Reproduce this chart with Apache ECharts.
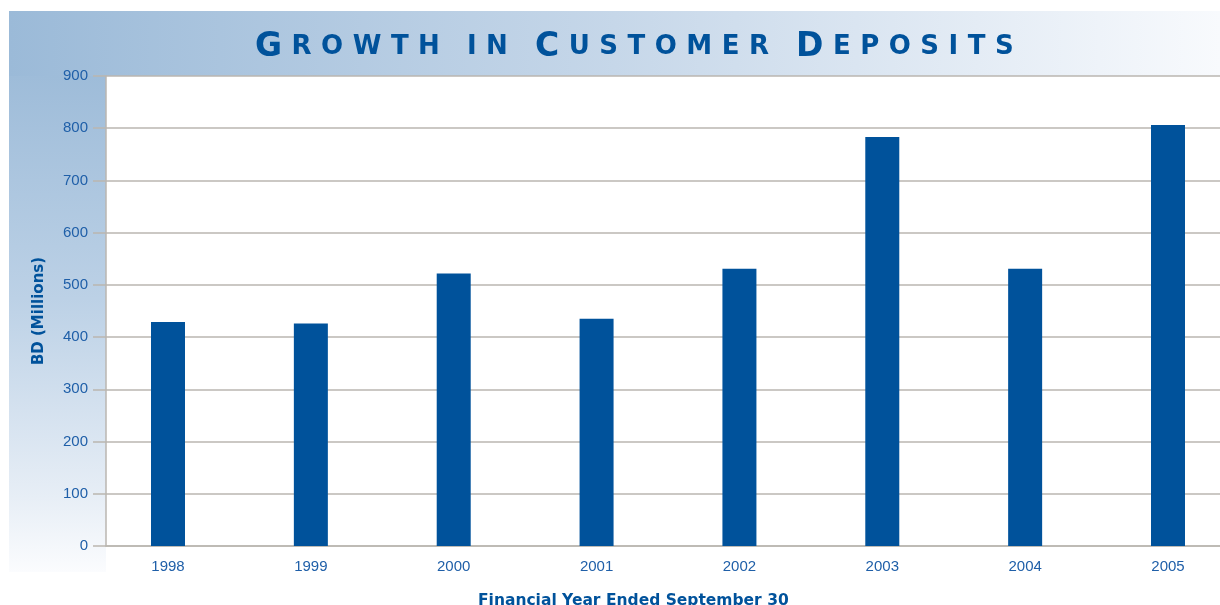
<!DOCTYPE html>
<html lang="en">
<head>
    <meta charset="UTF-8">
    <title>Growth in Customer Deposits</title>
    <script src="https://cdn.jsdelivr.net/npm/echarts@6/dist/echarts.min.js"></script>
    <style>
        html, body { margin: 0; padding: 0; background: #fff; }
    </style>
</head>
<body>
    <div id="main" style="width: 1220px; height: 605px;"></div>
    <script>
        // values (BD millions)
        const years = [1998, 1999, 2000, 2001, 2002, 2003, 2004, 2005];
        const deposits = [429, 426, 522, 435, 531, 783, 531, 806];
        const yMin = 0;
        const yMax = 900;
        const yStep = 100;

        const titleText = 'GROWTH IN CUSTOMER DEPOSITS';
        const smallWords = ['IN'];

        const blue = '#00529b';
        const labelBlue = '#1f5fa8';
        const gridGray = '#bab6b0';

        // small caps title, every letter a rich segment so the tracking can be widened
        function smallCapsTitle(text) {
            return text.split(' ').map(word => {
                const letters = word.split('');
                return letters.map((ch, i) => {
                    const big = i === 0 && !smallWords.includes(word);
                    const last = i === letters.length - 1;
                    const key = (big ? 'b' : 's') + (last ? '' : 'g');
                    return '{' + key + '|' + ch + '}';
                }).join('');
            }).join('{w| }');
        }

        const bigStyle = { fontFamily: 'DejaVu Sans', fontSize: 33, fontWeight: 'bold', color: blue, lineHeight: 40 };
        const smallStyle = { fontFamily: 'DejaVu Sans', fontSize: 26, fontWeight: 'bold', color: blue, lineHeight: 40 };
        const tracking = 9.5;

        const chart = echarts.init(document.getElementById('main'));

        const option = {
            backgroundColor: '#ffffff',
            animation: false,
            graphic: [
                {
                    type: 'rect',
                    z: -10,
                    shape: { x: 9, y: 11, width: 1211, height: 65 },
                    style: {
                        fill: new echarts.graphic.LinearGradient(0, 0, 1, 0, [
                            { offset: 0, color: '#9bbad8' },
                            { offset: 0.5, color: '#c6d7e9' },
                            { offset: 1, color: '#f8fafd' }
                        ])
                    }
                },
                {
                    type: 'rect',
                    z: -10,
                    shape: { x: 9, y: 76, width: 97, height: 496 },
                    style: {
                        fill: new echarts.graphic.LinearGradient(0, 0, 0, 1, [
                            { offset: 0, color: '#9ebcd9' },
                            { offset: 0.45, color: '#bcd1e6' },
                            { offset: 0.85, color: '#e7eef6' },
                            { offset: 1, color: '#fbfcfe' }
                        ])
                    }
                }
            ],
            title: [
                {
                    text: smallCapsTitle(titleText),
                    left: 250,
                    top: 22,
                    textStyle: {
                        fontWeight: 'bold',
                        rich: {
                            b: bigStyle,
                            bg: Object.assign({}, bigStyle, { padding: [0, tracking, 0, 0] }),
                            s: smallStyle,
                            sg: Object.assign({}, smallStyle, { padding: [0, tracking, 0, 0] }),
                            w: { fontFamily: 'DejaVu Sans', fontSize: 26, lineHeight: 40, padding: [0, 18, 0, 0] }
                        }
                    }
                },
                {
                    text: 'Financial Year Ended September 30',
                    left: 473,
                    top: 588,
                    textStyle: {
                        fontFamily: 'DejaVu Sans',
                        fontSize: 15.5,
                        fontWeight: 'bold',
                        color: blue
                    }
                }
            ],
            grid: {
                left: 106,
                top: 76,
                right: 0,
                bottom: 59
            },
            xAxis: {
                type: 'value',
                min: 1997.566,
                max: 2005.364,
                splitLine: { show: false },
                axisLine: { lineStyle: { color: gridGray, width: 1.5 } },
                axisTick: { show: false },
                axisLabel: {
                    customValues: years,
                    formatter: v => String(v),
                    margin: 13,
                    fontFamily: 'Liberation Sans',
                    fontSize: 15,
                    color: labelBlue
                }
            },
            yAxis: {
                type: 'value',
                min: yMin,
                max: yMax,
                interval: yStep,
                name: 'BD (Millions)',
                nameLocation: 'middle',
                nameRotate: 90,
                nameGap: 59,
                nameTextStyle: {
                    fontFamily: 'DejaVu Sans',
                    fontSize: 15,
                    fontWeight: 'bold',
                    color: blue
                },
                axisLine: { show: true, lineStyle: { color: gridGray, width: 1.5 } },
                axisTick: { show: true, length: 13, lineStyle: { color: gridGray, width: 1.5 } },
                axisLabel: {
                    margin: 18,
                    fontFamily: 'Liberation Sans',
                    fontSize: 15,
                    color: labelBlue
                },
                splitLine: { lineStyle: { color: gridGray, width: 1.5 } }
            },
            series: [
                {
                    type: 'bar',
                    data: years.map((y, i) => [y, deposits[i]]),
                    barWidth: 34,
                    itemStyle: { color: blue }
                }
            ]
        };

        chart.setOption(option);
    </script>
</body>
</html>
